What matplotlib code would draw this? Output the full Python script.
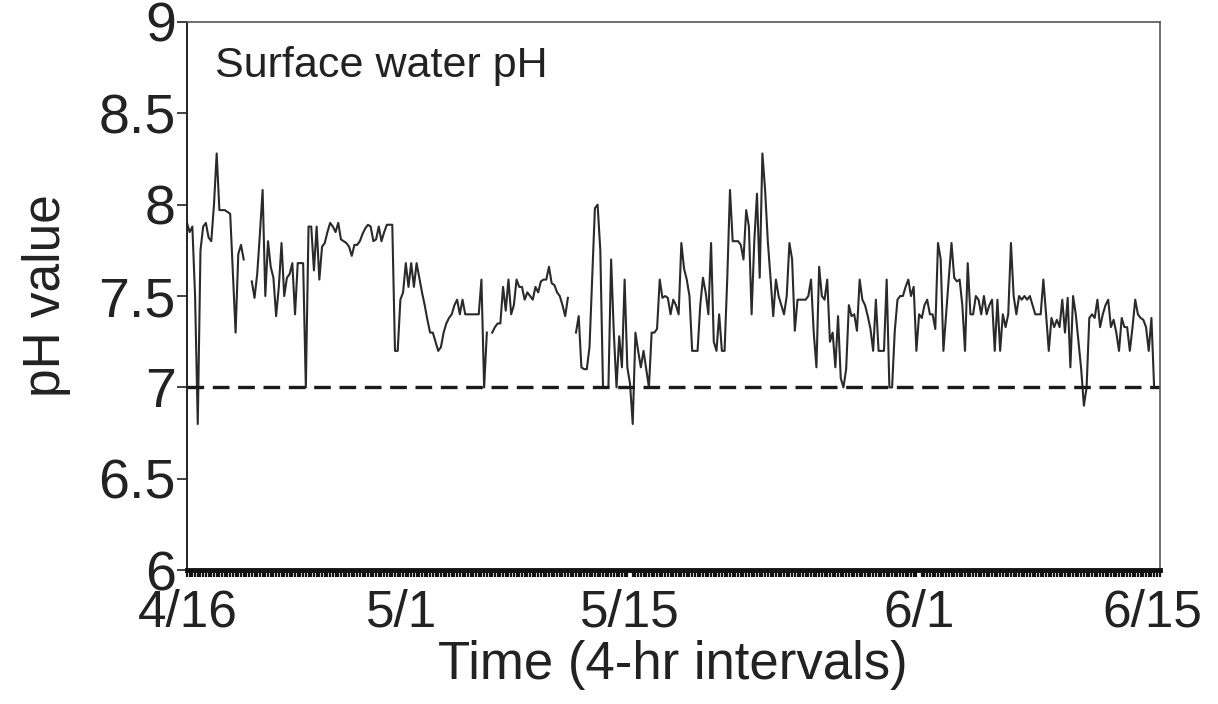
import numpy as np
import matplotlib
matplotlib.use("Agg")
import matplotlib.pyplot as plt

nan = np.nan
# Surface water pH, one reading per 4-hr interval from 4/16 (index 0) to 6/15 (index 360)
ph_values = [
    7.9, 7.85, 7.88, 7.5, 6.8, 7.75, 7.88, 7.9, 7.82, 7.8,
    8.0, 8.28, 7.97, 7.97, 7.97, 7.96, 7.95, 7.62, 7.3, 7.73,
    7.78, 7.7, nan, nan, 7.58, 7.49, 7.62, 7.84, 8.08, 7.5,
    7.8, 7.66, 7.6, 7.39, 7.55, 7.79, 7.5, 7.6, 7.62, 7.68,
    7.4, 7.68, 7.68, 7.68, 7.0, 7.88, 7.88, 7.64, 7.88, 7.59,
    7.77, 7.79, 7.85, 7.9, 7.88, 7.85, 7.9, 7.81, 7.8, 7.79,
    7.77, 7.72, 7.78, 7.78, 7.8, 7.84, 7.87, 7.89, 7.88, 7.8,
    7.81, 7.88, 7.8, 7.85, 7.89, 7.89, 7.89, 7.2, 7.2, 7.48,
    7.52, 7.68, 7.55, 7.68, 7.55, 7.68, 7.6, 7.52, 7.45, 7.37,
    7.3, 7.3, 7.25, 7.2, 7.22, 7.3, 7.35, 7.38, 7.4, 7.45,
    7.48, 7.4, 7.48, 7.4, 7.4, 7.4, 7.4, 7.4, 7.4, 7.59,
    7.0, 7.3, nan, 7.3, 7.33, 7.35, 7.35, 7.55, 7.42, 7.59,
    7.4, 7.45, 7.59, 7.55, 7.55, 7.48, 7.52, 7.5, 7.48, 7.55,
    7.52, 7.58, 7.59, 7.59, 7.66, 7.57, 7.56, 7.52, 7.5, 7.45,
    7.39, 7.49, nan, nan, 7.3, 7.39, 7.11, 7.1, 7.1, 7.22,
    7.6, 7.98, 8.0, 7.75, 7.0, 7.0, 7.0, 7.7, 7.3, 7.0,
    7.28, 7.11, 7.59, 7.11, 7.02, 6.8, 7.3, 7.2, 7.11, 7.2,
    7.1, 7.0, 7.3, 7.3, 7.32, 7.59, 7.49, 7.5, 7.49, 7.4,
    7.48, 7.45, 7.4, 7.79, 7.65, 7.59, 7.5, 7.2, 7.2, 7.2,
    7.45, 7.6, 7.52, 7.4, 7.79, 7.25, 7.2, 7.4, 7.2, 7.2,
    7.6, 8.08, 7.8, 7.8, 7.8, 7.78, 7.7, 7.97, 7.88, 7.4,
    7.8, 8.06, 7.6, 8.28, 8.08, 7.8, 7.6, 7.39, 7.59, 7.5,
    7.45, 7.4, 7.5, 7.79, 7.7, 7.31, 7.48, 7.48, 7.48, 7.48,
    7.5, 7.59, 7.3, 7.11, 7.66, 7.5, 7.48, 7.59, 7.25, 7.3,
    7.11, 7.39, 7.05, 7.0, 7.1, 7.45, 7.39, 7.4, 7.31, 7.59,
    7.48, 7.45, 7.39, 7.32, 7.2, 7.48, 7.2, 7.2, 7.2, 7.59,
    7.0, 7.0, 7.31, 7.48, 7.5, 7.5, 7.55, 7.59, 7.5, 7.55,
    7.2, 7.4, 7.38, 7.45, 7.48, 7.4, 7.4, 7.32, 7.79, 7.7,
    7.2, 7.4, 7.6, 7.79, 7.6, 7.58, 7.59, 7.45, 7.2, 7.68,
    7.4, 7.4, 7.5, 7.48, 7.4, 7.5, 7.4, 7.45, 7.48, 7.2,
    7.48, 7.2, 7.4, 7.33, 7.4, 7.79, 7.5, 7.4, 7.5, 7.48,
    7.5, 7.48, 7.5, 7.45, 7.4, 7.4, 7.4, 7.59, 7.4, 7.2,
    7.38, 7.33, 7.37, 7.33, 7.48, 7.3, 7.49, 7.11, 7.5, 7.4,
    7.25, 7.1, 6.9, 7.0, 7.38, 7.4, 7.38, 7.48, 7.33, 7.4,
    7.45, 7.48, 7.33, 7.37, 7.3, 7.2, 7.38, 7.33, 7.33, 7.2,
    7.33, 7.48, 7.4, 7.38, 7.37, 7.33, 7.2, 7.38, 7.0, 7.0, 7.0,
]
intervals = np.arange(len(ph_values))

date_labels = ["4/16", "5/1", "5/15", "6/1", "6/15"]
date_positions = [0.4, 79.5, 164, 271, 357.5]   # interval index under each label
y_ticks = [6, 6.5, 7, 7.5, 8, 8.5, 9]
y_tick_labels = ["6", "6.5", "7", "7.5", "8", "8.5", "9"]
neutral_ph = 7.0

plt.rcParams['font.family'] = ['Liberation Sans', 'DejaVu Sans']

fig = plt.figure(figsize=(12.18, 7.04), dpi=100)
ax = fig.add_axes([0.1535, 0.19, 0.7985, 0.779])

ax.plot(intervals, ph_values, color='#2a2a2a', linewidth=1.5)
ax.axhline(neutral_ph, color='#1a1a1a', linewidth=2.4, linestyle=(0, (5, 2.6)))

ax.set_xlim(0, 360)
ax.set_ylim(6, 9)

ax.set_yticks(y_ticks)
ax.set_yticklabels(y_tick_labels)
ax.set_xticks(date_positions)
ax.set_xticklabels(date_labels)
ax.set_xticks(intervals, minor=True)

ax.tick_params(axis='y', which='major', direction='out', length=7, width=1.2,
               labelsize=40, pad=1, colors='#222222')
ax.tick_params(axis='x', which='major', length=0, labelsize=37, pad=13,
               colors='#222222')
ax.tick_params(axis='x', which='minor', direction='out', length=5, width=1.6,
               color='#111111')

for side in ['top', 'right']:
    ax.spines[side].set_color('#555555')
    ax.spines[side].set_linewidth(1.2)
ax.spines['left'].set_color('#222222')
ax.spines['left'].set_linewidth(1.4)
ax.spines['bottom'].set_color('#111111')
ax.spines['bottom'].set_linewidth(3.5)

ax.set_ylabel("pH value", fontsize=37, color='#222222', labelpad=20)
ax.set_xlabel("Time (4-hr intervals)", fontsize=38, color='#222222', labelpad=2)

ax.text(0.029, 0.90, "Surface water pH", transform=ax.transAxes, fontsize=31,
        color='#222222', va='baseline', ha='left')

fig.savefig("out.png", dpi=100, facecolor='white')
